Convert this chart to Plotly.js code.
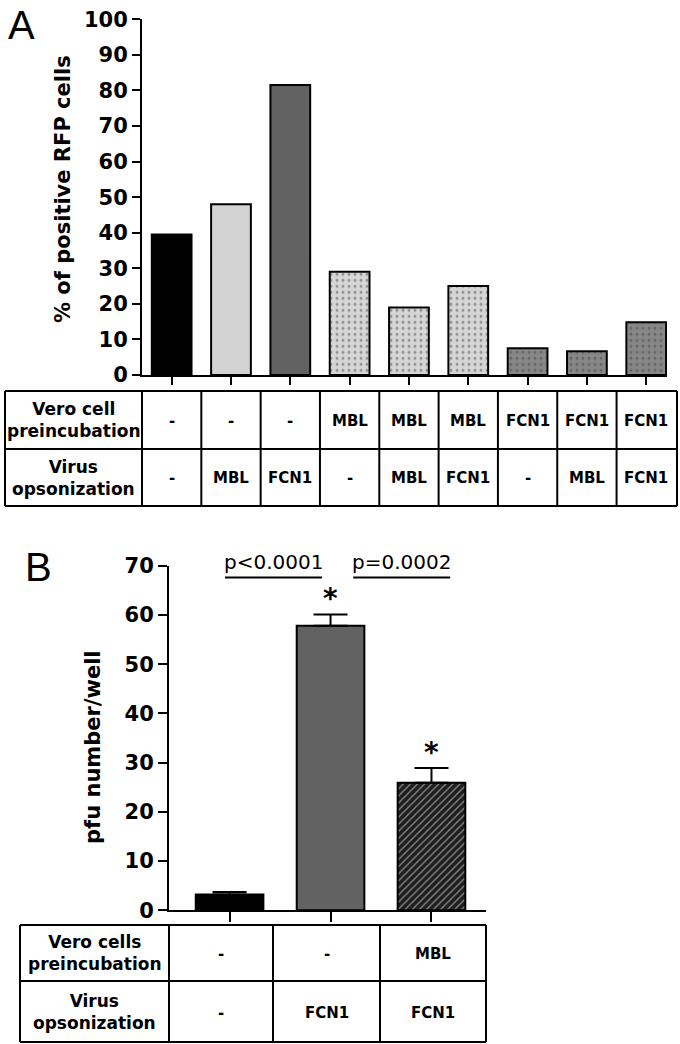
<!DOCTYPE html>
<html>
<head>
<meta charset="utf-8">
<script src="https://cdn.plot.ly/plotly-3.0.1.min.js"></script>
<style>html,body{margin:0;padding:0;background:#fff;}#chart{width:680px;height:1044px;}</style>
</head>
<body>
<div id="chart"></div>
<script>
// ---------------- DATA ----------------
// Panel A
const veroA  = ['-', '-', '-', 'MBL', 'MBL', 'MBL', 'FCN1', 'FCN1', 'FCN1'];
const virusA = ['-', 'MBL', 'FCN1', '-', 'MBL', 'FCN1', '-', 'MBL', 'FCN1'];
const valuesA = [39.5, 48, 81.5, 29, 19, 25, 7.5, 6.7, 14.8];
const rowLabelsA = ['Vero cell<br>preincubation', 'Virus<br>opsonization'];
const yTitleA = '% of positive RFP cells';

// Panel B
const veroB  = ['-', '-', 'MBL'];
const virusB = ['-', 'FCN1', 'FCN1'];
const valuesB = [3.2, 57.8, 25.9];
const errorsB = [0.5, 2.3, 3.0];
const signifB = ['', '*', '*'];
const comparePairs = [[0, 1], [1, 2]];
const compareLabels = ['p<0.0001', 'p=0.0002'];
const rowLabelsB = ['Vero cells<br>preincubation', 'Virus<br>opsonization'];
const yTitleB = 'pfu number/well';

// ---------------- STYLE ----------------
const W = 680, H = 1044;
const px = x => x / W;
const py = y => 1 - y / H;
const FONT = 'DejaVu Sans, Liberation Sans, Arial, sans-serif';
const TBL_LABEL = 17, TBL_CELL = 15;

const colorsA = ['#000000', '#d3d3d3', '#626262', '#d6d6d6', '#d6d6d6', '#d6d6d6', '#878787', '#878787', '#878787'];
const shapesA = ['', '', '', '.', '.', '.', '.', '.', '.'];
const fgA = ['#000', '#000', '#000', '#4a4a4a', '#4a4a4a', '#4a4a4a', '#262626', '#262626', '#262626'];
const colorsB = ['#000000', '#626262', '#1e1e1e'];
const shapesB = ['', '', '/'];
const fgB = ['#000', '#000', '#6e6e6e'];

// axis geometry (pixels)
const A = {l: 142, r: 667, t: 19.3, b: 375, x0: -0.5, x1: 8.35};
const B = {l: 169, r: 486, t: 565.8, b: 910.2, x0: -0.6, x1: 2.54};
const xA = v => A.l + (v - A.x0) / (A.x1 - A.x0) * (A.r - A.l);

const idxA = valuesA.map((_, i) => i);
const idxB = valuesB.map((_, i) => i);

const traces = [
  {
    type: 'bar', x: idxA, y: valuesA, xaxis: 'x', yaxis: 'y',
    marker: {color: colorsA, line: {color: '#000', width: 2},
      pattern: {shape: shapesA, fgcolor: fgA, fillmode: 'overlay', size: 6, solidity: 0.2}},
    hoverinfo: 'none', showlegend: false
  },
  {
    type: 'bar', x: idxB, y: valuesB, xaxis: 'x2', yaxis: 'y2',
    marker: {color: colorsB, line: {color: '#000', width: 2},
      pattern: {shape: shapesB, fgcolor: fgB, fillmode: 'overlay', size: 5, solidity: 0.25}},
    error_y: {type: 'data', symmetric: false, array: errorsB, arrayminus: errorsB.map(() => 0),
      color: '#000', thickness: 2, width: 17},
    hoverinfo: 'none', showlegend: false
  }
];

const axCommon = {
  showline: true, linecolor: '#000', linewidth: 2, ticks: 'outside', tickwidth: 2,
  tickcolor: '#000', showgrid: false, zeroline: false, fixedrange: true
};

const shapes = [];
const annotations = [];
const line = (x0, y0, x1, y1, w) => shapes.push({type: 'line', xref: 'paper', yref: 'paper',
  x0: px(x0), y0: py(y0), x1: px(x1), y1: py(y1), line: {color: '#000', width: w || 2}});
const txt = (o, size, weight) => Object.assign({showarrow: false, xanchor: 'center', yanchor: 'middle',
  font: {family: FONT, size: size, weight: weight || 'bold', color: '#000'}}, o);

// ---- Table A ----
const tA = {l: 5, r: 677, rows: [391, 449, 506]};
tA.rows.forEach(y => line(tA.l, y, tA.r, y));
line(tA.l, tA.rows[0], tA.l, tA.rows[2]);
line(A.l, tA.rows[0], A.l, tA.rows[2]);
idxA.forEach(i => {
  const xb = i === idxA.length - 1 ? tA.r : xA(i + 0.5);
  line(xb, tA.rows[0], xb, tA.rows[2]);
});
[veroA, virusA].forEach((row, r) => {
  const yc = (tA.rows[r] + tA.rows[r + 1]) / 2;
  annotations.push(txt({xref: 'paper', yref: 'paper', x: px((tA.l + A.l) / 2), y: py(yc), text: rowLabelsA[r]}, TBL_LABEL));
  row.forEach((t, i) => annotations.push(txt({xref: 'x', yref: 'paper', x: i, y: py(yc + 1), text: t}, TBL_CELL)));
});

// ---- Table B ----
const tB = {cols: [20, 169, 273, 380, 486], rows: [925, 981, 1042]};
tB.rows.forEach(y => line(tB.cols[0], y, tB.cols[tB.cols.length - 1], y));
tB.cols.forEach(x => line(x, tB.rows[0], x, tB.rows[2]));
[veroB, virusB].forEach((row, r) => {
  const yc = (tB.rows[r] + tB.rows[r + 1]) / 2;
  annotations.push(txt({xref: 'paper', yref: 'paper', x: px((tB.cols[0] + tB.cols[1]) / 2), y: py(yc), text: rowLabelsB[r]}, TBL_LABEL));
  row.forEach((t, i) => annotations.push(txt({xref: 'paper', yref: 'paper',
    x: px((tB.cols[i + 1] + tB.cols[i + 2]) / 2), y: py(yc + 1), text: t}, TBL_CELL)));
});

// ---- significance stars ----
idxB.forEach(i => {
  if (!signifB[i]) return;
  annotations.push(txt({xref: 'x2', yref: 'y2', x: i, y: valuesB[i] + errorsB[i], yshift: 16, text: signifB[i]}, 28));
});

// ---- comparison lines ----
const cmpShift = [-0.065, 0.205];
comparePairs.forEach((p, k) => {
  const mid = (p[0] + p[1]) / 2 + cmpShift[k];
  shapes.push({type: 'line', xref: 'x2', yref: 'y2', x0: mid - 0.48, x1: mid + 0.48,
    y0: 67.6, y1: 67.6, line: {color: '#000', width: 2}});
  annotations.push(txt({xref: 'x2', yref: 'paper', x: mid, y: py(562), text: compareLabels[k]}, 20, 'normal'));
});

// ---- axis titles and panel letters ----
annotations.push(txt({xref: 'paper', yref: 'paper', x: px(63), y: py(189), text: yTitleA, textangle: -90}, 21));
annotations.push(txt({xref: 'paper', yref: 'paper', x: px(93), y: py(747), text: yTitleB, textangle: -90}, 21));
annotations.push({xref: 'paper', yref: 'paper', x: px(6), y: py(1), text: 'A',
  showarrow: false, xanchor: 'left', yanchor: 'top',
  font: {family: 'Liberation Sans, Arial, sans-serif', size: 40, color: '#000'}});
annotations.push({xref: 'paper', yref: 'paper', x: px(23), y: py(543), text: 'B',
  showarrow: false, xanchor: 'left', yanchor: 'top',
  font: {family: 'Liberation Sans, Arial, sans-serif', size: 40, color: '#000'}});

const layout = {
  width: W, height: H, margin: {l: 0, r: 0, t: 0, b: 0},
  paper_bgcolor: '#fff', plot_bgcolor: 'rgba(0,0,0,0)',
  bargap: 0.33, showlegend: false,
  xaxis: Object.assign({}, axCommon, {domain: [px(A.l), px(A.r)], range: [A.x0, A.x1], anchor: 'y',
    tickmode: 'array', tickvals: idxA, showticklabels: false, ticklen: 8}),
  yaxis: Object.assign({}, axCommon, {domain: [py(A.b), py(A.t)], range: [0, 100], anchor: 'x',
    tickmode: 'linear', tick0: 0, dtick: 10, ticklen: 8,
    tickfont: {family: FONT, size: 21, weight: 'bold', color: '#000'}}),
  xaxis2: Object.assign({}, axCommon, {domain: [px(B.l), px(B.r)], range: [B.x0, B.x1], anchor: 'y2',
    tickmode: 'array', tickvals: idxB, showticklabels: false, ticklen: 10}),
  yaxis2: Object.assign({}, axCommon, {domain: [py(B.b), py(B.t)], range: [0, 70], anchor: 'x2',
    tickmode: 'linear', tick0: 0, dtick: 10, ticklen: 9,
    tickfont: {family: FONT, size: 21, weight: 'bold', color: '#000'}}),
  shapes: shapes, annotations: annotations
};

Plotly.newPlot('chart', traces, layout, {staticPlot: true, displayModeBar: false});
</script>
</body>
</html>
